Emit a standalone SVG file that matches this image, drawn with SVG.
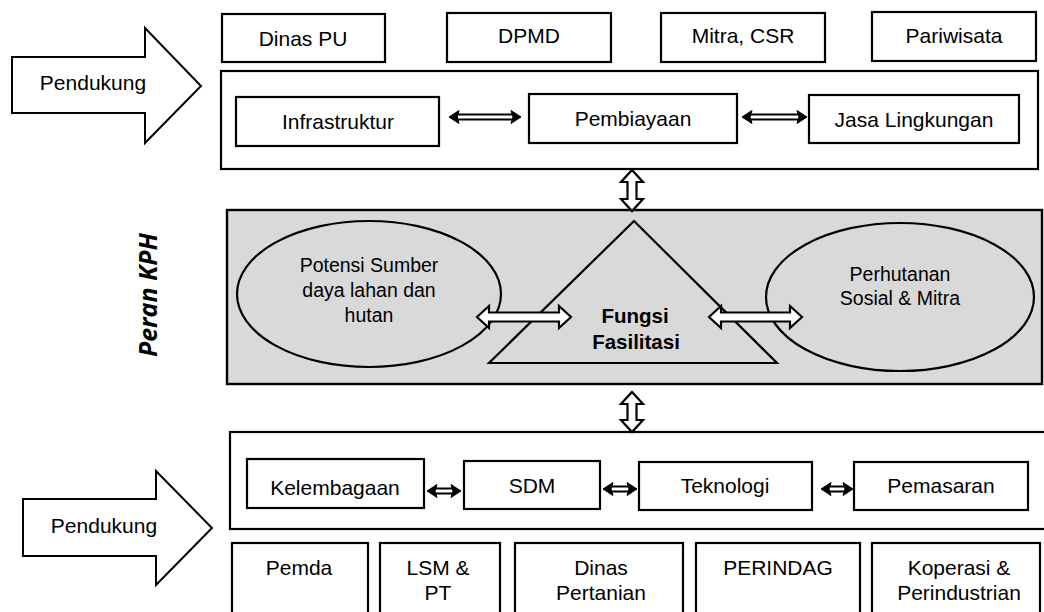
<svg xmlns="http://www.w3.org/2000/svg" width="1044" height="612" viewBox="0 0 1044 612">
<style>
.box{fill:#fff;stroke:#000;stroke-width:2.2}
.cont{fill:#fff;stroke:#000;stroke-width:2.2}
.grey{fill:#d9d9d9;stroke:#000;stroke-width:2.4}
.ol{fill:none;stroke:#000;stroke-width:2.2}
.blk{fill:#fff;stroke:#000;stroke-width:2}
.harr{fill:#fff;stroke:#000;stroke-width:2.2;stroke-linejoin:miter}
.tarr{fill:#fff;stroke:#000;stroke-width:1.8;stroke-linejoin:miter}
.head{fill:#000;stroke:#000;stroke-width:1}
text{font-family:"Liberation Sans",Arial,sans-serif;font-size:21px;fill:#000;text-anchor:middle}
.el{font-size:19.5px}
.bold{font-weight:bold;font-size:20.5px}
.peran{font-family:"Open Sans","Liberation Sans",sans-serif;font-weight:bold;font-style:italic;font-size:25px}
</style>

<g id="pendukung-top">
<polygon class="blk" points="12,57 145,57 145,28 201,86 145,143 145,113 12,113"/>
<text x="93" y="90">Pendukung</text>
</g>
<g id="dinas-pu"><rect class="box" x="222" y="14" width="163" height="48"/><text x="303" y="46">Dinas PU</text></g>
<g id="dpmd"><rect class="box" x="447" y="13" width="164" height="49"/><text x="529" y="43">DPMD</text></g>
<g id="mitra-csr"><rect class="box" x="661" y="13" width="164" height="49"/><text x="743" y="43">Mitra, CSR</text></g>
<g id="pariwisata"><rect class="box" x="872" y="12" width="164" height="49"/><text x="954" y="43">Pariwisata</text></g>

<g id="top-container"><rect class="cont" x="221" y="71" width="817" height="98"/></g>
<g id="infrastruktur"><rect class="box" x="236" y="97" width="203" height="49"/><text x="338" y="129">Infrastruktur</text></g>
<g id="pembiayaan"><rect class="box" x="529" y="94" width="208" height="49"/><text x="633" y="126">Pembiayaan</text></g>
<g id="jasa-lingkungan"><rect class="box" x="809" y="95" width="210" height="48"/><text x="914" y="127">Jasa Lingkungan</text></g>

<g id="peran-kph"><text class="peran" transform="translate(157,295) rotate(-90)">Peran KPH</text></g>

<g id="kph-box"><rect class="grey" x="227" y="210" width="815" height="174"/></g>
<g id="potensi">
<ellipse class="ol" cx="369" cy="294" rx="132" ry="73"/>
<text class="el" x="369" y="272">Potensi Sumber</text>
<text class="el" x="369" y="297">daya lahan dan</text>
<text class="el" x="369" y="322">hutan</text>
</g>
<g id="fungsi">
<polygon class="ol" points="634,221 777,363 489,363"/>
<text class="bold" x="635" y="323">Fungsi</text>
<text class="bold" x="636" y="349">Fasilitasi</text>
</g>
<g id="perhutanan">
<ellipse class="ol" cx="900" cy="297" rx="134" ry="74"/>
<text class="el" x="900" y="281">Perhutanan</text>
<text class="el" x="900" y="305">Sosial &amp; Mitra</text>
</g>

<g id="bottom-container"><rect class="cont" x="230" y="432" width="830" height="97"/></g>
<g id="kelembagaan"><rect class="box" x="247" y="459" width="177" height="49"/><text x="335" y="495">Kelembagaan</text></g>
<g id="sdm"><rect class="box" x="464" y="461" width="136" height="48"/><text x="532" y="493">SDM</text></g>
<g id="teknologi"><rect class="box" x="639" y="462" width="173" height="48"/><text x="725" y="493">Teknologi</text></g>
<g id="pemasaran"><rect class="box" x="854" y="462" width="174" height="48"/><text x="941" y="493">Pemasaran</text></g>

<g id="pendukung-bottom">
<polygon class="blk" points="23,499 156,499 156,471 212,528 156,585 156,556 23,556"/>
<text x="104" y="533">Pendukung</text>
</g>

<g id="pemda"><rect class="box" x="232" y="543" width="136" height="80"/><text x="299" y="575">Pemda</text></g>
<g id="lsm-pt"><rect class="box" x="380" y="543" width="120" height="80"/><text x="438" y="575">LSM &amp;</text><text x="438" y="600">PT</text></g>
<g id="dinas-pertanian"><rect class="box" x="515" y="543" width="168" height="80"/><text x="601" y="575">Dinas</text><text x="601" y="600">Pertanian</text></g>
<g id="perindag"><rect class="box" x="696" y="543" width="164" height="80"/><text x="778" y="575">PERINDAG</text></g>
<g id="koperasi"><rect class="box" x="872" y="543" width="168" height="80"/><text x="959" y="575">Koperasi &amp;</text><text x="959" y="600">Perindustrian</text></g>

<g id="connectors">
<path class="tarr" d="M451,117 L458,117 M458,114.5 L512,114.5 M458,119.5 L512,119.5"/>
<polygon class="head" points="449,117 459,110.5 457,117 459,123.5"/>
<polygon class="head" points="521,117 511,110.5 513,117 511,123.5"/>
<path class="tarr" d="M751,114.5 L798,114.5 M751,119.5 L798,119.5"/>
<polygon class="head" points="742,117 752,110.5 750,117 752,123.5"/>
<polygon class="head" points="807,117 797,110.5 799,117 797,123.5"/>
<path class="harr" d="M632,170 L643,182 L636.5,182 L636.5,199 L643,199 L632,211 L621,199 L627.5,199 L627.5,182 L621,182 Z"/>
<path class="harr" d="M477,317 L489,306 L489,312.5 L559,312.5 L559,306 L571,317 L559,328 L559,321.5 L489,321.5 L489,328 Z"/>
<path class="harr" d="M709,317 L721,306 L721,312.5 L790,312.5 L790,306 L802,317 L790,328 L790,321.5 L721,321.5 L721,328 Z"/>
<path class="harr" d="M632,392 L643,404 L636.5,404 L636.5,420 L643,420 L632,432 L621,420 L627.5,420 L627.5,404 L621,404 Z"/>
<path class="tarr" d="M436,488.5 L452,488.5 M436,493.5 L452,493.5"/>
<polygon class="head" points="427,491 437,484.5 435,491 437,497.5"/>
<polygon class="head" points="461,491 451,484.5 453,491 451,497.5"/>
<path class="tarr" d="M612,486.5 L628,486.5 M612,491.5 L628,491.5"/>
<polygon class="head" points="603,489 613,482.5 611,489 613,495.5"/>
<polygon class="head" points="637,489 627,482.5 629,489 627,495.5"/>
<path class="tarr" d="M830,486.5 L844,486.5 M830,491.5 L844,491.5"/>
<polygon class="head" points="821,489 831,482.5 829,489 831,495.5"/>
<polygon class="head" points="853,489 843,482.5 845,489 843,495.5"/>
</g>
</svg>
